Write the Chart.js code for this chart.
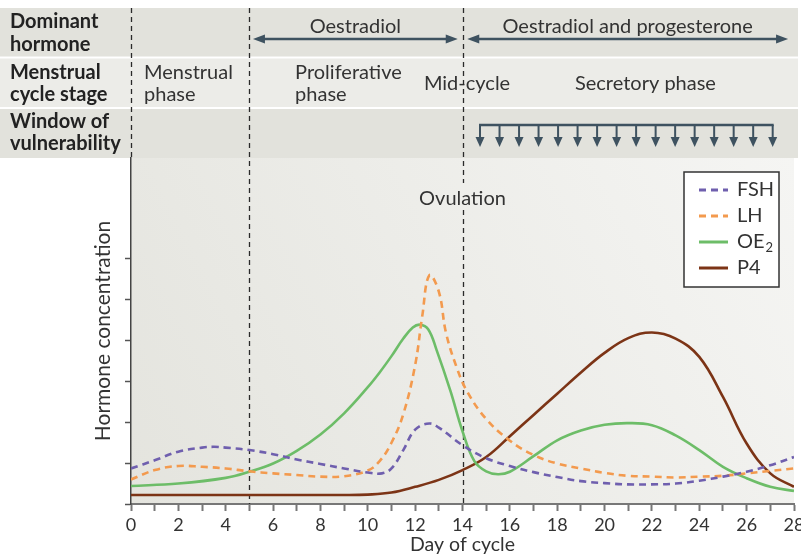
<!DOCTYPE html>
<html>
<head>
<meta charset="utf-8">
<script src="https://cdn.jsdelivr.net/npm/chart.js@4.4.1/dist/chart.umd.min.js"></script>
<style>
  html, body { margin: 0; padding: 0; background: #fff; }
  canvas { display: block; }
</style>
</head>
<body>
<canvas id="cycleChart" width="801" height="559"></canvas>
<script>
const FONT = "Lato, 'Open Sans', sans-serif";

// hormone curves (x = day of cycle, y = relative concentration)
const fshDays = [0, 1, 2, 3, 3.5, 4, 5, 6, 7, 8, 9, 10, 10.6, 11, 11.5, 12, 12.6, 13, 14, 15, 16, 17, 18, 19, 20, 21, 22, 23, 24, 25, 26, 27, 28];
const fshValues = [0.87, 1.07, 1.28, 1.38, 1.4, 1.38, 1.32, 1.22, 1.09, 0.98, 0.87, 0.77, 0.75, 0.87, 1.32, 1.82, 1.97, 1.87, 1.44, 1.12, 0.93, 0.78, 0.66, 0.56, 0.51, 0.48, 0.48, 0.5, 0.57, 0.67, 0.79, 0.95, 1.15];

const lhDays = [0, 1, 2, 3, 4, 5, 6, 7, 8, 9, 10, 10.5, 11, 11.5, 12, 12.3, 12.6, 13, 13.3, 13.75, 14.2, 15, 16, 17, 18, 19, 20, 21, 22, 23, 24, 25, 26, 27, 28];
const lhValues = [0.6, 0.83, 0.93, 0.91, 0.87, 0.8, 0.75, 0.71, 0.67, 0.68, 0.82, 1.05, 1.5, 2.2, 3.4, 4.6, 5.6, 5.2, 4.2, 3.35, 2.75, 2.08, 1.55, 1.2, 0.99, 0.87, 0.76, 0.69, 0.67, 0.65, 0.67, 0.69, 0.75, 0.81, 0.87];

const oe2Days = [0, 2, 4, 5, 6, 7, 8, 9, 10, 10.5, 11, 11.5, 11.9, 12.2, 12.55, 12.9, 13.5, 14, 14.5, 15, 15.5, 16, 17, 18, 19, 20, 21, 22, 23, 24, 25, 26, 27, 28];
const oe2Values = [0.44, 0.5, 0.64, 0.79, 0.99, 1.3, 1.7, 2.22, 2.86, 3.22, 3.62, 4.05, 4.32, 4.39, 4.28, 3.78, 2.75, 1.78, 1.05, 0.8, 0.73, 0.79, 1.17, 1.56, 1.8, 1.94, 1.98, 1.93, 1.68, 1.32, 0.91, 0.63, 0.42, 0.32];

const p4Days = [0, 5, 9, 10, 11, 12, 13, 14, 15, 16, 17, 18, 19, 20, 21, 22, 23, 24, 25, 26, 27, 28];
const p4Values = [0.22, 0.22, 0.22, 0.23, 0.28, 0.42, 0.59, 0.83, 1.15, 1.66, 2.18, 2.7, 3.22, 3.7, 4.06, 4.2, 4.05, 3.6, 2.62, 1.48, 0.75, 0.42];

const seriesNames = ["FSH", "LH", "OE₂", "P4"];
const yTickValues = [0, 1, 2, 3, 4, 5, 6];

// header table text
const rowLabels = [["Dominant", "hormone"], ["Menstrual", "cycle stage"], ["Window of", "vulnerability"]];
const hormoneLabels = ["Oestradiol", "Oestradiol and progesterone"];
const stageLabels = [["Menstrual", "phase"], ["Proliferative", "phase"], ["Mid-cycle"], ["Secretory phase"]];
const phaseBoundaries = [0, 5, 14];
const ovulationLabel = "Ovulation";
const vulnerabilityArrows = 16;

function points(days, values) {
    return days.map((d, i) => ({ x: d, y: values[i] }));
}

const INK = "#3e5260";

function arrowHead(ctx, x, y, dir, len, half) {
    // dir: 1 = right, -1 = left, 0 = down
    ctx.beginPath();
    if (dir === 0) {
        ctx.moveTo(x, y);
        ctx.lineTo(x - half, y - len);
        ctx.lineTo(x + half, y - len);
    } else {
        ctx.moveTo(x, y);
        ctx.lineTo(x - dir * len, y - half);
        ctx.lineTo(x - dir * len, y + half);
    }
    ctx.closePath();
    ctx.fill();
}

function doubleArrow(ctx, x1, x2, y) {
    ctx.strokeStyle = INK;
    ctx.fillStyle = INK;
    ctx.lineWidth = 2.5;
    ctx.beginPath();
    ctx.moveTo(x1 + 6, y);
    ctx.lineTo(x2 - 6, y);
    ctx.stroke();
    arrowHead(ctx, x1, y, -1, 12, 4.5);
    arrowHead(ctx, x2, y, 1, 12, 4.5);
}

const headerPlugin = {
    id: "header",
    beforeDraw(chart) {
        const { ctx, chartArea: a, scales: { x } } = chart;
        ctx.save();

        // table rows
        ctx.fillStyle = "#e2e2dc";
        ctx.fillRect(0, 8, 798, 48.5);
        ctx.fillStyle = "#ecece8";
        ctx.fillRect(0, 58.5, 798, 48.5);
        ctx.fillStyle = "#e2e2dc";
        ctx.fillRect(0, 109, 798, 49);

        // plot background
        const g = ctx.createLinearGradient(a.left, a.bottom, a.right, a.top);
        g.addColorStop(0, "#e4e4de");
        g.addColorStop(1, "#f5f5f3");
        ctx.fillStyle = g;
        ctx.fillRect(a.left, a.top, a.width, a.height);

        // row titles
        ctx.fillStyle = "#222";
        ctx.font = "bold 20px " + FONT;
        ctx.textBaseline = "alphabetic";
        ctx.textAlign = "left";
        const baselines = [[28, 51], [79, 101], [128, 150]];
        rowLabels.forEach((lines, r) => {
            lines.forEach((t, k) => ctx.fillText(t, 10, baselines[r][k]));
        });

        // dominant hormone arrows
        ctx.font = "20px " + FONT;
        ctx.fillStyle = "#333";
        ctx.textAlign = "center";
        const h1 = [x.getPixelForValue(5.15), x.getPixelForValue(13.8)];
        const h2 = [x.getPixelForValue(14.2), x.getPixelForValue(27.75)];
        ctx.fillText(hormoneLabels[0], (h1[0] + h1[1]) / 2, 33);
        ctx.fillText(hormoneLabels[1], (h2[0] + h2[1]) / 2, 33);
        doubleArrow(ctx, h1[0], h1[1], 39);
        doubleArrow(ctx, h2[0], h2[1], 39);

        // menstrual cycle stages
        ctx.fillStyle = "#333";
        ctx.textAlign = "left";
        const stageDays = [0.55, 6.93, 12.37, 18.75];
        stageLabels.forEach((lines, i) => {
            const px = x.getPixelForValue(stageDays[i]);
            if (lines.length === 2) {
                ctx.fillText(lines[0], px, 79);
                ctx.fillText(lines[1], px, 101);
            } else {
                ctx.fillText(lines[0], px, 90);
            }
        });

        // window of vulnerability
        const w1 = x.getPixelForValue(14.74), w2 = x.getPixelForValue(27.1);
        ctx.strokeStyle = INK;
        ctx.fillStyle = INK;
        ctx.lineWidth = 2.5;
        ctx.beginPath();
        ctx.moveTo(w1 - 1, 125);
        ctx.lineTo(w2 + 1, 125);
        ctx.stroke();
        ctx.lineWidth = 2;
        for (let i = 0; i < vulnerabilityArrows; i++) {
            const px = w1 + (w2 - w1) * i / (vulnerabilityArrows - 1);
            ctx.beginPath();
            ctx.moveTo(px, 125);
            ctx.lineTo(px, 138);
            ctx.stroke();
            arrowHead(ctx, px, 147, 0, 10, 4.5);
        }
        ctx.restore();
    },
    beforeDatasetsDraw(chart) {
        const { ctx, chartArea: a, scales: { x } } = chart;
        ctx.save();
        ctx.strokeStyle = "#2a2a2a";
        ctx.lineWidth = 1.3;
        ctx.setLineDash([5, 4]);
        phaseBoundaries.forEach(d => {
            const px = Math.round(x.getPixelForValue(d)) + 0.5;
            const bottom = d === 0 ? a.top : a.bottom;
            ctx.beginPath();
            if (d === 14) {
                ctx.moveTo(px, 8);
                ctx.lineTo(px, 183);
                ctx.moveTo(px, 210);
                ctx.lineTo(px, bottom);
            } else {
                ctx.moveTo(px, 8);
                ctx.lineTo(px, bottom);
            }
            ctx.stroke();
        });
        ctx.setLineDash([]);
        ctx.fillStyle = "#333";
        ctx.font = "20px " + FONT;
        ctx.textAlign = "center";
        ctx.textBaseline = "alphabetic";
        ctx.fillText(ovulationLabel, x.getPixelForValue(14), 205);
        ctx.restore();
    },
    afterDatasetsDraw(chart) {
        const { ctx, chartArea: a } = chart;
        ctx.save();
        const bx = a.right - 110, by = a.top + 14, bw = 95, bh = 115;
        ctx.fillStyle = "#fff";
        ctx.fillRect(bx, by, bw, bh);
        ctx.strokeStyle = "#333";
        ctx.lineWidth = 1.5;
        ctx.strokeRect(bx, by, bw, bh);
        ctx.textBaseline = "middle";
        ctx.textAlign = "left";
        chart.data.datasets.forEach((ds, i) => {
            const cy = by + 18 + i * 26;
            ctx.strokeStyle = ds.borderColor;
            ctx.lineWidth = 3;
            ctx.setLineDash(ds.borderDash || []);
            ctx.beginPath();
            ctx.moveTo(bx + 15, cy);
            ctx.lineTo(bx + 44, cy);
            ctx.stroke();
            ctx.setLineDash([]);
            ctx.fillStyle = "#333";
            ctx.font = "20px " + FONT;
            const label = ds.label;
            if (label.includes("₂")) {
                const base = label.replace("₂", "");
                ctx.fillText(base, bx + 53, cy);
                const w = ctx.measureText(base).width;
                ctx.font = "13px " + FONT;
                ctx.fillText("2", bx + 53 + w + 1, cy + 6);
            } else {
                ctx.fillText(label, bx + 53, cy);
            }
        });
        ctx.restore();
    }
};

const lineStyle = { pointRadius: 0, borderWidth: 2.6, fill: false, tension: 0.4 };

new Chart(document.getElementById("cycleChart"), {
    type: "line",
    data: {
        datasets: [
            { ...lineStyle, label: seriesNames[0], data: points(fshDays, fshValues), borderColor: "#6f5fae", borderDash: [7, 5] },
            { ...lineStyle, label: seriesNames[1], data: points(lhDays, lhValues), borderColor: "#f39a4e", borderDash: [7, 5] },
            { ...lineStyle, label: seriesNames[2], data: points(oe2Days, oe2Values), borderColor: "#6dbd68" },
            { ...lineStyle, label: seriesNames[3], data: points(p4Days, p4Values), borderColor: "#7c3416" },
        ],
    },
    options: {
        responsive: false,
        animation: false,
        layout: { padding: { left: 0, right: 7, top: 158, bottom: 0 } },
        plugins: {
            legend: { display: false },
            tooltip: { enabled: false },
        },
        scales: {
            x: {
                type: "linear",
                min: 0,
                max: 28,
                border: { color: "#777", width: 2 },
                grid: { drawOnChartArea: false, tickLength: 7, tickColor: "#777", tickWidth: 2 },
                ticks: {
                    stepSize: 1,
                    autoSkip: false,
                    maxRotation: 0,
                    padding: 3,
                    color: "#333",
                    font: { family: FONT, size: 18 },
                    callback: (v) => (v % 2 === 0 ? v : ""),
                },
                title: {
                    display: true,
                    text: "Day of cycle",
                    color: "#333",
                    font: { family: FONT, size: 19.5 },
                    padding: { top: 0, bottom: 3 },
                },
                afterFit: (s) => {
                    s.height = 55;
                    s.paddingLeft = 0;
                    s.paddingRight = 0;
                },
            },
            y: {
                type: "linear",
                min: 0,
                max: 8.47,
                border: { color: "#444", width: 1.5 },
                grid: { drawOnChartArea: false, tickLength: 6, tickColor: "#555", tickWidth: 1.5 },
                ticks: { display: false },
                afterBuildTicks: (s) => { s.ticks = yTickValues.map(v => ({ value: v })); },
                title: {
                    display: true,
                    text: "Hormone concentration",
                    color: "#333",
                    font: { family: FONT, size: 21 },
                    padding: { top: 91, bottom: 0 },
                },
                afterFit: (s) => { s.width = 131; },
            },
        },
    },
    plugins: [headerPlugin],
});
</script>
</body>
</html>
